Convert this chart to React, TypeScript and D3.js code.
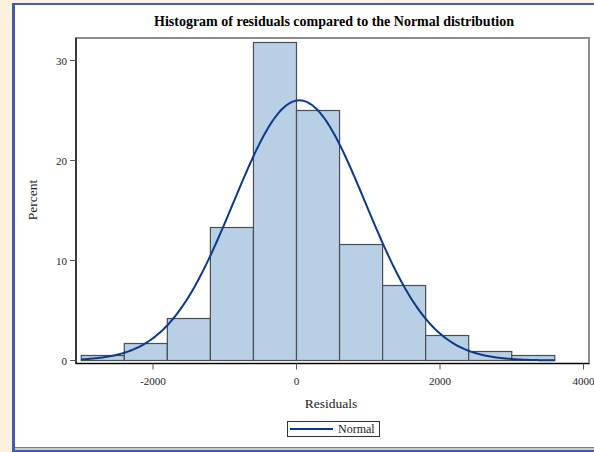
import React from "react";
import * as d3 from "d3";

const binEdges = [-3000, -2400, -1800, -1200, -600, 0, 600, 1200, 1800, 2400, 3000, 3600];
const binPercents = [0.5, 1.7, 4.2, 13.3, 31.8, 25.0, 11.6, 7.5, 2.5, 0.9, 0.5];
const xTicks = [-2000, 0, 2000, 4000];
const yTicks = [0, 10, 20, 30];
const normalMean = 40;
const normalSd = 920;
const binWidth = 600;

const W = 594;
const H = 452;
const FONT = "'Liberation Serif', 'DejaVu Serif', serif";

export default function App() {
  const x = d3.scaleLinear().domain([-2000, 2000]).range([153, 440]);
  const y = d3.scaleLinear().domain([0, 30]).range([360.5, 60.5]);

  const left = 76;
  const right = 589;
  const top = 38;
  const bottom = 363.5;

  const bins = binPercents.map((p, i) => ({ x0: binEdges[i], x1: binEdges[i + 1], p }));

  const dens = (v: number) =>
    (100 * binWidth) / (normalSd * Math.sqrt(2 * Math.PI)) *
    Math.exp(-0.5 * ((v - normalMean) / normalSd) ** 2);
  const curvePts = d3.range(binEdges[0], binEdges[binEdges.length - 1] + 1, 20).map((v) => [v, dens(v)] as [number, number]);
  const line = d3
    .line<[number, number]>()
    .x((d) => x(d[0]))
    .y((d) => y(d[1]))
    .curve(d3.curveBasis);

  return (
    <svg
      width={W}
      height={H}
      style={{ position: "absolute", left: 0, top: 0, display: "block" }}
      fontFamily={FONT}
    >
      <rect x={0} y={0} width={W} height={H} fill="#FDF0DC" />
      <rect x={12} y={3} width={W - 12} height={H - 3} fill="#ffffff" />
      <line x1={13.5} y1={3} x2={13.5} y2={H} stroke="#3F5EAE" strokeWidth={3} />
      <line x1={12} y1={4} x2={W} y2={4} stroke="#3F5EAE" strokeWidth={2} />
      <line x1={15} y1={447.5} x2={W} y2={447.5} stroke="#808080" strokeWidth={1} />
      <rect x={15} y={448} width={W - 15} height={2} fill="#C8C8C8" />
      <line x1={12} y1={451} x2={W} y2={451} stroke="#3F5EAE" strokeWidth={2} />

      <text x={334} y={26} textAnchor="middle" fontSize={14} fontWeight="bold" fill="#000">
        Histogram of residuals compared to the Normal distribution
      </text>

      {/* frame */}
      <rect x={left} y={top} width={right - left} height={bottom - top} fill="none" stroke="#8C8C8C" strokeWidth={2} />

      {bins.map((b, i) => (
        <rect
          key={i}
          x={x(b.x0)}
          y={y(b.p)}
          width={x(b.x1) - x(b.x0)}
          height={y(0) - y(b.p)}
          fill="#B9CFE6"
          stroke="#4D4D4D"
          strokeWidth={1.2}
        />
      ))}

      <path d={line(curvePts) || ""} fill="none" stroke="#0B3A8A" strokeWidth={2} />

      {/* axes */}
      <line x1={left} y1={top} x2={left} y2={bottom} stroke="#000" strokeWidth={1.2} />
      <line x1={left} y1={bottom} x2={right} y2={bottom} stroke="#000" strokeWidth={1.2} />

      {yTicks.map((t) => (
        <g key={t}>
          <line x1={70} x2={left} y1={y(t)} y2={y(t)} stroke="#555" strokeWidth={1} />
          <text x={67} y={y(t) + 4} textAnchor="end" fontSize={11} fill="#222">
            {t}
          </text>
        </g>
      ))}
      {xTicks.map((t) => (
        <g key={t}>
          <line x1={x(t)} x2={x(t)} y1={bottom} y2={bottom + 6} stroke="#555" strokeWidth={1} />
          <text x={x(t)} y={385} textAnchor="middle" fontSize={11} fill="#222">
            {t}
          </text>
        </g>
      ))}

      <text x={331} y={408} textAnchor="middle" fontSize={13.5} fill="#222">
        Residuals
      </text>
      <text
        transform={`translate(37,200) rotate(-90)`}
        textAnchor="middle"
        fontSize={13.5}
        fill="#222"
      >
        Percent
      </text>

      {/* legend */}
      <rect x={287.5} y={421.5} width={92} height={15} fill="#fff" stroke="#333" strokeWidth={1} />
      <line x1={290} x2={333} y1={429} y2={429} stroke="#0B3A8A" strokeWidth={2} />
      <text x={338} y={433} fontSize={12} fill="#222">
        Normal
      </text>
    </svg>
  );
}
